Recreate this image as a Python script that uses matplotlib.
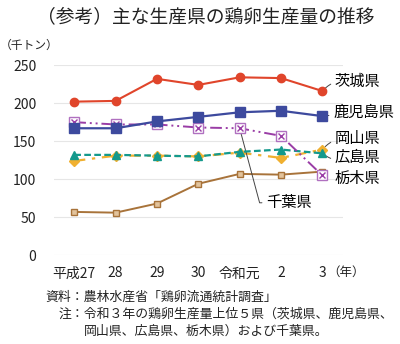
import matplotlib
matplotlib.use('Agg')
import matplotlib.pyplot as plt

plt.rcParams['font.family'] = ['Noto Sans CJK JP', 'DejaVu Sans']

years = ['平成27', '28', '29', '30', '令和元', '2', '3']
ibaraki = [202, 203, 232, 224, 234, 233, 216]
kagoshima = [167, 167, 176, 182, 188, 190, 183]
tochigi = [175, 172, 172, 168, 167, 157, 105]
okayama = [124, 131, 131, 130, 135, 128, 139]
hiroshima = [132, 132, 131, 130, 136, 139, 134]
chiba = [57, 56, 68, 94, 107, 106, 110]

fig = plt.figure(figsize=(4.0, 3.44), dpi=100)
ax = fig.add_axes((0.134, 0.258, 0.7235, 0.5526))
x = list(range(len(years)))

ax.plot(x, chiba, color='#A8733A', lw=1.4, marker='s', ms=4.5,
        mfc='#E2C39C', mec='#A8733A', mew=1.0, zorder=3)
ax.plot(x, okayama, color='#F0B030', lw=1.6, ls=(0, (5, 3, 1.5, 3)),
        marker='D', ms=5, mfc='#F0B030', mec='#F0B030', zorder=3)
ax.plot(x, hiroshima, color='#14998C', lw=1.6, ls=(0, (3, 1.5)),
        marker='^', ms=6, mfc='#14998C', mec='#14998C', zorder=4)
ax.plot(x, tochigi, color='#9A3DA6', lw=1.4, ls=(0, (6, 2, 1, 2, 1, 2)),
        marker='s', ms=6.5, mfc='white', mec='#B070C0', mew=1.0, zorder=4)
ax.plot(x, tochigi, ls='none', marker='x', ms=4, mec='#9A3DA6', mew=1.0, zorder=5)
ax.plot(x, kagoshima, color='#3D4A9E', lw=1.6, marker='s', ms=6.5,
        mfc='#3D4A9E', mec='#3D4A9E', zorder=5)
ax.plot(x, ibaraki, color='#E0452B', lw=1.5, marker='o', ms=6,
        mfc='#E0452B', mec='#E0452B', zorder=5)

ax.set_xlim(-0.5, 6.5)
ax.set_ylim(0, 250)
ax.set_yticks([0, 50, 100, 150, 200, 250])
ax.set_xticks(x)
ax.set_xticklabels(years)
ax.grid(axis='y', color='#E6E6E6', lw=0.8)
ax.set_axisbelow(True)
for s in ax.spines.values():
    s.set_visible(False)
ax.tick_params(axis='both', length=0, labelsize=10, colors='#222222')
ax.tick_params(axis='y', pad=12.5)
ax.tick_params(axis='x', pad=8)

lead = dict(arrowstyle='-', color='#444444', lw=0.7, shrinkA=1, shrinkB=3)
fs = 11
ax.annotate('茨城県', xy=(6, ibaraki[6]), xytext=(6.3, 229), ha='left', va='center',
            fontsize=fs, arrowprops=dict(lead, connectionstyle='arc3,rad=0.3'))
ax.annotate('鹿児島県', xy=(6, kagoshima[6]), xytext=(6.26, 188), ha='left', va='center',
            fontsize=fs, arrowprops=lead)
ax.annotate('岡山県', xy=(6, okayama[6]), xytext=(6.3, 153.5), ha='left', va='center',
            fontsize=fs, arrowprops=dict(lead, connectionstyle='arc3,rad=0.3'))
ax.annotate('広島県', xy=(6, hiroshima[6]), xytext=(6.3, 128.5), ha='left', va='center',
            fontsize=fs, arrowprops=dict(lead, connectionstyle='arc3,rad=-0.3'))
ax.text(6.3, 100.7, '栃木県', ha='left', va='center', fontsize=fs)
ax.annotate('千葉県', xy=(4, tochigi[4]), xytext=(4.64, 69), ha='left', va='center',
            fontsize=fs, arrowprops=dict(lead, connectionstyle='angle,angleA=0,angleB=-75,rad=0'))

fig.text(0.515, 0.95, '（参考）主な生産県の鶏卵生産量の推移', ha='center', va='center',
         fontsize=13.5, color='#222222')
fig.text(0.0, 1 - 45 / 344, '（千トン）', ha='left', va='center', fontsize=8.5, color='#222222')
fig.text(327 / 400, 1 - 272.5 / 344, '（年）', ha='left', va='center', fontsize=9, color='#222222')

fig.text(45 / 400, 1 - 297 / 344, '資料：農林水産省「鶏卵流通統計調査」', ha='left', va='center',
         fontsize=9.3, color='#222222')
fig.text(59 / 400, 1 - 314 / 344, '注：令和３年の鶏卵生産量上位５県（茨城県、鹿児島県、',
         ha='left', va='center', fontsize=9.3, color='#222222')
fig.text(84 / 400, 1 - 331 / 344, '岡山県、広島県、栃木県）および千葉県。', ha='left', va='center',
         fontsize=9.3, color='#222222')

fig.savefig('out.png', dpi=100)
